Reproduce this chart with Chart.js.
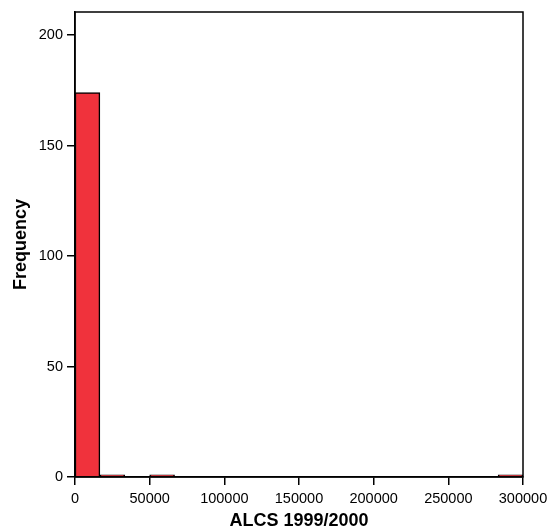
<!DOCTYPE html>
<html>
<head>
<meta charset="utf-8">
<script src="https://cdn.jsdelivr.net/npm/chart.js@4"></script>
<style>
  html, body { margin: 0; padding: 0; background: #fff; }
  #wrap { width: 550px; height: 530px; }
</style>
</head>
<body>
<div id="wrap"><canvas id="hist"></canvas></div>
<script>
// histogram of ALCS 1999/2000, 18 bins over 0..300000
const binEdgeMin = 0;
const binEdgeMax = 300000;
const frequencies = [174, 1, 0, 1, 0, 0, 0, 0, 0, 0, 0, 0, 0, 0, 0, 0, 0, 1];
const xTicks = [0, 50000, 100000, 150000, 200000, 250000, 300000];
const yTicks = [0, 50, 100, 150, 200];

const binWidth = (binEdgeMax - binEdgeMin) / frequencies.length;
const points = frequencies.map((f, i) => ({ x: binEdgeMin + binWidth * (i + 0.5), y: f }));

const FONT = 'Liberation Sans, Arial, sans-serif';

// frame around the plot area (top + right sides too)
const frame = {
  id: 'frame',
  afterDatasetsDraw(chart) {
    const a = chart.chartArea, ctx = chart.ctx;
    ctx.save();
    ctx.strokeStyle = '#000';
    ctx.lineWidth = 1.5;
    ctx.strokeRect(a.left, a.top, a.right - a.left, a.bottom - a.top);
    ctx.restore();
  }
};

new Chart(document.getElementById('hist'), {
  type: 'bar',
  data: {
    datasets: [{
      label: 'ALCS 1999/2000',
      data: points,
      backgroundColor: 'rgb(240,50,60)',
      borderColor: '#000',
      borderWidth: 1.5,
      barPercentage: 1,
      categoryPercentage: 1
    }]
  },
  options: {
    responsive: true,
    maintainAspectRatio: false,
    animation: false,
    layout: { padding: { top: 12, right: 27, left: 0, bottom: 0 } },
    plugins: { legend: { display: false }, tooltip: { enabled: false } },
    scales: {
      x: {
        type: 'linear',
        min: binEdgeMin,
        max: binEdgeMax,
        offset: false,
        afterBuildTicks: (s) => { s.ticks = xTicks.map(v => ({ value: v })); },
        afterFit: (s) => { s.height = 53; s.paddingLeft = 0; s.paddingRight = 0; },
        grid: { display: true, offset: false, drawOnChartArea: false, color: '#000', lineWidth: 1.5, tickLength: 8 },
        border: { display: true, color: '#000', width: 1.5 },
        ticks: {
          color: '#000', padding: 5, maxRotation: 0, autoSkip: false,
          font: { family: FONT, size: 14.5 },
          callback: (v) => String(v)
        },
        title: {
          display: true, text: 'ALCS 1999/2000', color: '#000', padding: { top: 0, bottom: 0 },
          font: { family: FONT, size: 18, weight: 'bold', lineHeight: 1 }
        }
      },
      y: {
        min: 0,
        max: 210.5,
        afterBuildTicks: (s) => { s.ticks = yTicks.map(v => ({ value: v })); },
        afterFit: (s) => { s.width = 75; s.paddingTop = 0; s.paddingBottom = 0; },
        grid: { display: true, drawOnChartArea: false, color: '#000', lineWidth: 1.5, tickLength: 8 },
        border: { display: true, color: '#000', width: 1.5 },
        ticks: {
          color: '#000', padding: 4,
          font: { family: FONT, size: 14.5 }
        },
        title: {
          display: true, text: 'Frequency', color: '#000', padding: { top: 12, bottom: 0 },
          font: { family: FONT, size: 18, weight: 'bold', lineHeight: 1 }
        }
      }
    }
  },
  plugins: [frame]
});
</script>
</body>
</html>
